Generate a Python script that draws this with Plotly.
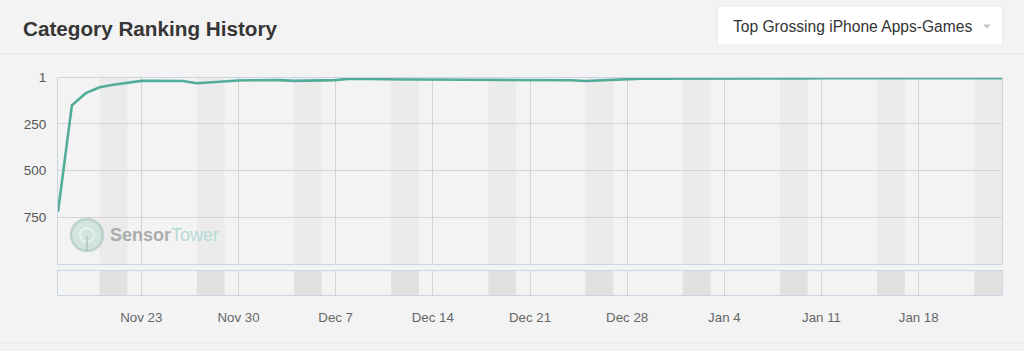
import pandas as pd
import plotly.graph_objects as go

# ---- data ----
start_date = "2021-11-17"
ranks = [720, 150, 85, 53, 40, 28, 19, 19, 19, 20, 32, 27, 22, 17,
         16, 15, 15, 19, 17, 19, 15, 8, 10, 11, 12, 12, 12, 12, 12, 12,
         12, 12, 12, 12, 12, 13, 12, 16, 20, 17, 13, 8, 7, 7, 7, 10, 8, 7,
         6, 6, 6, 6, 6, 6, 6, 5, 5, 5, 5, 5, 5, 5, 5, 5, 5, 6, 6, 6, 5]
dates = pd.date_range(start_date, periods=len(ranks), freq="D")
y_ticks = [1, 250, 500, 750]
title = "Category Ranking History"
dropdown_label = "Top Grossing iPhone Apps-Games"

W, H = 1024, 351
def px(x):
    return x / W
def py(y):
    return 1 - y / H

FONT = "Liberation Sans"
BG = "#f3f3f3"
BORDER = "#c9d5e2"
GRID = "#d4d4d4"

fig = go.Figure()
fig.add_trace(go.Scatter(x=dates, y=ranks, mode="lines",
                         line=dict(color="#52ad98", width=2.6),
                         xaxis="x", yaxis="y", showlegend=False,
                         hoverinfo="skip"))
# invisible trace for navigator axis
fig.add_trace(go.Scatter(x=[dates[0], dates[-1]], y=[0.5, 0.5], mode="lines",
                         line=dict(color="rgba(0,0,0,0)", width=0),
                         xaxis="x2", yaxis="y2", showlegend=False,
                         hoverinfo="skip"))

x_range = [dates[0], dates[-1]]
week_ms = 7 * 86400000

shapes = []
# weekend bands (Sat-Sun)
for d in dates:
    if d.weekday() == 5:
        shapes.append(dict(type="rect", xref="x", yref="y domain",
                           x0=d, x1=d + pd.Timedelta(days=2), y0=0, y1=1,
                           fillcolor="#ebebeb", line=dict(width=0),
                           layer="below"))
        shapes.append(dict(type="rect", xref="x2", yref="y2 domain",
                           x0=d, x1=d + pd.Timedelta(days=2), y0=0, y1=1,
                           fillcolor="#e1e1e1", line=dict(width=0),
                           layer="below"))
# header separator and bottom line
shapes.append(dict(type="line", xref="paper", yref="paper", x0=0, x1=1,
                   y0=py(54), y1=py(54), line=dict(color="#e2e2e2", width=1)))
shapes.append(dict(type="line", xref="paper", yref="paper", x0=0, x1=1,
                   y0=py(343), y1=py(343), line=dict(color="#e2e2e2", width=1)))
# dropdown box
shapes.append(dict(type="rect", xref="paper", yref="paper",
                   x0=px(717), x1=px(1003), y0=py(45), y1=py(6),
                   fillcolor="#ffffff", line=dict(color="#e6e6e6", width=1)))
shapes.append(dict(type="path", xref="paper", yref="paper",
                   path=f"M {px(983)} {py(24.5)} L {px(991)} {py(24.5)} L {px(987)} {py(28.5)} Z",
                   fillcolor="#c4c4c4", line=dict(width=0)))
# watermark logo
shapes.append(dict(type="circle", xref="paper", yref="paper",
                   x0=px(71), x1=px(103), y0=py(251), y1=py(219),
                   fillcolor="rgba(175,214,205,0.5)",
                   line=dict(color="rgba(160,190,184,0.55)", width=2.5),
                   layer="above"))
shapes.append(dict(type="circle", xref="paper", yref="paper",
                   x0=px(80), x1=px(94), y0=py(242), y1=py(228),
                   fillcolor="rgba(0,0,0,0)",
                   line=dict(color="rgba(240,248,246,0.7)", width=2),
                   layer="above"))
shapes.append(dict(type="line", xref="paper", yref="paper",
                   x0=px(87), x1=px(87), y0=py(236), y1=py(251),
                   line=dict(color="rgba(160,185,180,0.6)", width=2),
                   layer="above"))

annotations = [
    dict(text=title, xref="paper", yref="paper", x=px(21), y=py(28),
         xanchor="left", yanchor="middle", showarrow=False,
         font=dict(family=FONT, size=20.7, color="#363636", weight="bold")),
    dict(text=dropdown_label, xref="paper", yref="paper", x=px(731), y=py(26),
         xanchor="left", yanchor="middle", showarrow=False,
         font=dict(family=FONT, size=15.6, color="#333333")),
    dict(text="<span style='color:#a9adac'><b>Sensor</b></span><span style='color:#b3dbd3'>Tower</span>",
         xref="paper", yref="paper", x=px(108), y=py(235),
         xanchor="left", yanchor="middle", showarrow=False,
         font=dict(family=FONT, size=18)),
]

fig.update_layout(
    width=W, height=H,
    margin=dict(l=0, r=0, t=0, b=0, pad=0, autoexpand=False),
    paper_bgcolor=BG, plot_bgcolor=BG,
    showlegend=False,
    shapes=shapes, annotations=annotations,
    xaxis=dict(domain=[px(58), px(1002)], range=x_range, type="date",
               anchor="y", showticklabels=False, showgrid=True,
               gridcolor=GRID, gridwidth=1, tick0="2021-11-23", dtick=week_ms,
               showline=True, mirror=True, linecolor=BORDER, linewidth=1,
               zeroline=False, fixedrange=True, automargin=False),
    yaxis=dict(domain=[py(264), py(77.5)], range=[1000, 1], anchor="x",
               tickvals=y_ticks, ticktext=[str(v) for v in y_ticks],
               showgrid=True, gridcolor=GRID, gridwidth=1,
               showline=True, mirror=True, linecolor=BORDER, linewidth=1,
               zeroline=False, ticks="outside", ticklen=8,
               tickcolor="rgba(0,0,0,0)", automargin=False,
               tickfont=dict(family=FONT, size=13.5, color="#555555")),
    xaxis2=dict(domain=[px(58), px(1002)], range=x_range, type="date",
                anchor="y2", matches="x", showticklabels=True, showgrid=True,
                gridcolor=GRID, gridwidth=1, tick0="2021-11-23", dtick=week_ms,
                tickformat="%b %-d", ticks="outside", ticklen=10,
                tickcolor="rgba(0,0,0,0)", automargin=False,
                showline=True, mirror=True, linecolor=BORDER, linewidth=1,
                zeroline=False,
                tickfont=dict(family=FONT, size=13.3, color="#666666")),
    yaxis2=dict(domain=[py(295), py(271)], range=[0, 1], anchor="x2",
                showticklabels=False, showgrid=False, zeroline=False,
                automargin=False,
                showline=True, mirror=True, linecolor=BORDER, linewidth=1),
)

fig.write_html("out.html")
